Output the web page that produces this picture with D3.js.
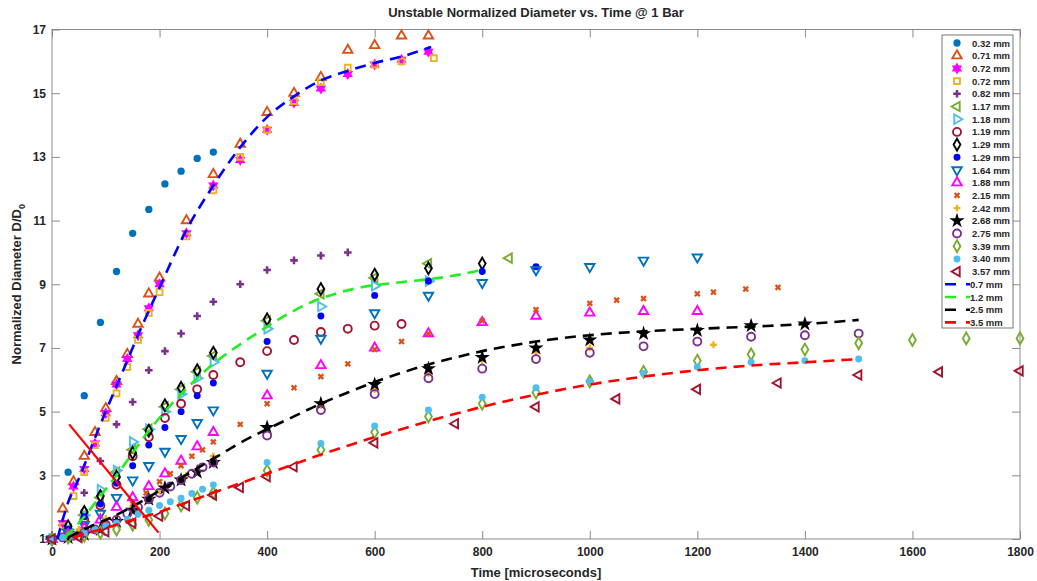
<!DOCTYPE html>
<html>
<head>
<meta charset="utf-8">
<script src="https://cdn.jsdelivr.net/npm/d3@7"></script>
<style>
  body { margin: 0; background: #fff; }
  text { font-family: "Liberation Sans", Arial, sans-serif; }
</style>
</head>
<body>
<svg id="chart" width="1037" height="581"></svg>
<script>
"use strict";

/* measured points: time [microseconds] and normalized diameter D/D0 */
const t032 = [0,30,60,90,120,150,180,210,240,270,300];
const v032 = [1,3.1,5.5,7.8,9.4,10.6,11.35,12.15,12.55,12.95,13.15];
const t071 = [0,20,40,60,80,100,120,140,160,180,200,250,300,350,400,450,500,550,600,650,700];
const v071 = [1,1.95,2.8,3.6,4.35,5.1,5.95,6.8,7.75,8.7,9.2,11.0,12.45,13.4,14.4,15.0,15.5,16.35,16.5,16.8,16.8];
const t072 = [0,20,40,60,80,100,120,140,160,180,200,250,300,350,400,450,500,550,600,650,700];
const v072 = [1,1.5,2.65,3.2,4.0,4.95,5.85,6.65,7.4,8.25,9.0,10.6,12.1,12.9,13.85,14.7,15.15,15.6,15.9,16.05,16.3];
const t072b = [0,20,40,60,80,100,120,140,160,180,200,250,300,350,400,450,500,550,600,650,710];
const v072b = [1,1.4,2.35,3.1,3.95,4.8,5.57,6.4,7.25,8.1,8.75,10.5,11.95,13.0,13.85,14.75,15.35,15.8,15.9,16.0,16.1];
const t082 = [0,60,90,120,150,180,210,240,270,300,350,400,450,500,550];
const v082 = [1,2.45,3.45,4.6,5.3,6.3,6.9,7.45,8.0,8.45,9.0,9.45,9.75,9.9,10.0];
const t117 = [0,30,60,90,120,150,180,210,240,270,300,400,500,600,700,850];
const v117 = [1,1.3,1.75,2.3,3.1,3.8,4.45,5.15,5.7,6.25,6.75,7.85,8.7,9.2,9.65,9.82];
const t118 = [0,30,60,90,120,150,180,210,240,270,300,400,500,600,700];
const v118 = [1,1.3,1.75,2.55,3.15,4.05,4.45,5.0,5.55,6.05,6.55,7.6,8.3,8.95,9.1];
const t119 = [0,30,60,90,120,150,180,210,240,270,300,350,400,450,500,550,600,650];
const v119 = [1,1.25,1.6,2.05,2.7,3.6,4.2,4.8,5.25,5.7,6.15,6.55,6.9,7.25,7.5,7.6,7.7,7.75];
const t129 = [0,30,60,90,120,150,180,210,240,270,300,400,500,600,700,800];
const v129 = [1,1.4,1.85,2.35,2.95,3.7,4.4,5.2,5.75,6.3,6.85,7.9,8.85,9.3,9.5,9.65];
const t129b = [0,30,60,90,120,150,180,210,240,270,300,400,500,600,700,800,900];
const v129b = [1,1.3,1.7,2.1,2.75,3.3,3.95,4.5,5.0,5.5,5.9,7.2,8.0,8.65,9.1,9.4,9.55];
const t164 = [0,30,60,90,120,150,180,210,240,270,300,400,500,600,700,800,900,1000,1100,1200];
const v164 = [1,1.2,1.45,1.8,2.3,2.85,3.3,3.75,4.15,4.65,5.05,6.2,7.3,8.1,8.65,9.05,9.45,9.55,9.75,9.85];
const t188 = [0,30,60,90,120,150,180,210,240,270,300,400,500,600,700,800,900,1000,1100,1200];
const v188 = [1,1.15,1.35,1.6,2.0,2.3,2.65,3.05,3.45,3.9,4.35,5.5,6.45,7.0,7.45,7.8,8.0,8.1,8.15,8.15];
const t215 = [0,50,100,150,175,200,220,240,260,280,300,350,400,450,500,550,600,650,700,800,900,1000,1050,1100,1200,1230,1290,1350];
const v215 = [1,1.2,1.5,2.1,2.45,2.8,3.05,3.3,3.6,3.8,4.05,4.6,5.25,5.75,6.1,6.5,6.95,7.2,7.45,7.85,8.2,8.4,8.5,8.55,8.7,8.75,8.85,8.9];
const t242 = [0,50,100,150,200,250,300,400,500,600,700,800,900,1000,1230];
const v242 = [1,1.3,1.65,2.0,2.5,3.0,3.6,4.5,5.2,5.7,6.2,6.6,6.85,7.0,7.1];
const t268 = [0,30,60,90,120,150,180,210,240,270,300,400,500,600,700,800,900,1000,1100,1200,1300,1400];
const v268 = [1,1.05,1.15,1.3,1.55,1.9,2.25,2.6,2.85,3.1,3.4,4.5,5.25,5.85,6.35,6.7,7.0,7.25,7.45,7.55,7.7,7.75];
const t275 = [0,20,40,60,80,100,120,140,160,180,200,220,240,260,280,300,400,500,600,700,800,900,1000,1100,1200,1300,1400,1500];
const v275 = [1,1.05,1.1,1.2,1.3,1.45,1.6,1.8,2.0,2.25,2.45,2.65,2.85,3.05,3.25,3.4,4.25,5.05,5.55,6.05,6.35,6.65,6.85,7.05,7.2,7.35,7.4,7.45];
const t339 = [0,30,60,90,120,150,180,210,240,270,300,400,500,600,700,800,900,1000,1100,1200,1300,1400,1500,1600,1700,1800];
const v339 = [1,1.05,1.1,1.2,1.3,1.45,1.6,1.8,2.05,2.3,2.45,3.15,3.8,4.35,4.85,5.25,5.6,5.95,6.25,6.6,6.8,6.95,7.15,7.25,7.3,7.3];
const t340 = [0,20,40,60,80,100,120,140,160,180,200,220,240,260,280,300,400,500,600,700,800,900,1000,1100,1200,1300,1400,1500];
const v340 = [1,1.05,1.1,1.2,1.3,1.4,1.5,1.62,1.78,1.9,2.05,2.17,2.28,2.43,2.56,2.7,3.4,4.0,4.55,5.05,5.45,5.75,5.95,6.2,6.4,6.55,6.6,6.65];
const t357 = [0,50,100,150,200,250,300,350,400,450,600,750,900,1050,1200,1350,1500,1650,1800];
const v357 = [1,1.05,1.23,1.5,1.72,2.05,2.38,2.62,2.96,3.27,4.02,4.62,5.15,5.4,5.7,5.9,6.15,6.25,6.28];

/* fitted curves */
const tFit07 = [10,30,50,90,130,165,200,250,300,350,400,450,500,550,600,650,705];
const vFit07 = [1.0,2.15,2.9,4.6,6.2,7.6,8.9,10.7,12.1,13.3,14.25,14.9,15.4,15.7,15.95,16.15,16.45];
const tFit12 = [25,60,90,120,150,180,210,240,270,300,340,380,430,480,530,580,630,680,740,800];
const vFit12 = [1.05,1.7,2.35,3.0,3.7,4.4,5.0,5.55,6.05,6.5,7.0,7.45,7.98,8.42,8.72,8.92,9.03,9.12,9.25,9.45];
const tFit25 = [30,70,110,150,190,230,270,310,350,400,450,500,550,600,650,700,750,800,850,900,1000,1100,1200,1300,1400,1500];
const vFit25 = [1.05,1.38,1.68,2.02,2.42,2.82,3.22,3.62,4.02,4.45,4.85,5.25,5.6,5.93,6.22,6.48,6.7,6.9,7.06,7.2,7.4,7.52,7.6,7.67,7.75,7.88];
const tFit35 = [40,80,120,160,200,250,300,350,400,450,500,550,600,650,700,750,800,850,900,1000,1100,1200,1300,1400,1500];
const vFit35 = [1.05,1.25,1.45,1.65,1.85,2.15,2.45,2.75,3.05,3.35,3.65,3.93,4.2,4.45,4.7,4.93,5.15,5.35,5.53,5.85,6.1,6.3,6.45,6.55,6.65];

/* red guide line */
const guideT = [32,198];
const guideV = [4.6,1.2];

const xTicks = [0,200,400,600,800,1000,1200,1400,1600,1800];
const yTicks = [1,3,5,7,9,11,13,15,17];

/* six pointed star for the hexagram marker */
const symbolHexagram = {
  draw(ctx, size) {
    let r = Math.sqrt(size) * 0.75;
    for (let i = 0; i < 12; i++) {
      let a = i * Math.PI / 6 - Math.PI / 2;
      let rr = i % 2 ? r / Math.sqrt(3) : r;
      if (i === 0) ctx.moveTo(rr * Math.cos(a), rr * Math.sin(a));
      else ctx.lineTo(rr * Math.cos(a), rr * Math.sin(a));
    }
    ctx.closePath();
  }
};

const shapes = {
  circle:   {type: d3.symbolCircle, rot: 0},
  triUp:    {type: d3.symbolTriangle, rot: 0},
  triDown:  {type: d3.symbolTriangle, rot: 180},
  triLeft:  {type: d3.symbolTriangle, rot: -90},
  triRight: {type: d3.symbolTriangle, rot: 90},
  square:   {type: d3.symbolSquare, rot: 0},
  diamond:  {type: d3.symbolDiamond, rot: 0},
  plus:     {type: d3.symbolCross, rot: 0},
  cross:    {type: d3.symbolCross, rot: 45},
  star:     {type: d3.symbolStar, rot: 0},
  hexagram: {type: symbolHexagram, rot: 0}
};

let series = [
  {label: '0.32 mm', t: t032, v: v032, shape: 'circle', color: '#0072BD', fill: true, size: 42},
  {label: '0.71 mm', t: t071, v: v071, shape: 'triUp', color: '#D95319', fill: false, size: 38},
  {label: '0.72 mm', t: t072, v: v072, shape: 'hexagram', color: '#FF00FF', fill: true, size: 64},
  {label: '0.72 mm', t: t072b, v: v072b, shape: 'square', color: '#EDB120', fill: false, size: 34},
  {label: '0.82 mm', t: t082, v: v082, shape: 'plus', color: '#7E2F8E', fill: true, size: 32},
  {label: '1.17 mm', t: t117, v: v117, shape: 'triLeft', color: '#77AC30', fill: false, size: 38},
  {label: '1.18 mm', t: t118, v: v118, shape: 'triRight', color: '#4DBEEE', fill: false, size: 38},
  {label: '1.19 mm', t: t119, v: v119, shape: 'circle', color: '#A2142F', fill: false, size: 50},
  {label: '1.29 mm', t: t129, v: v129, shape: 'diamond', color: '#000000', fill: false, size: 40},
  {label: '1.29 mm', t: t129b, v: v129b, shape: 'circle', color: '#0000FF', fill: true, size: 38},
  {label: '1.64 mm', t: t164, v: v164, shape: 'triDown', color: '#0072BD', fill: false, size: 38},
  {label: '1.88 mm', t: t188, v: v188, shape: 'triUp', color: '#FF00FF', fill: false, size: 38},
  {label: '2.15 mm', t: t215, v: v215, shape: 'cross', color: '#D95319', fill: true, size: 26},
  {label: '2.42 mm', t: t242, v: v242, shape: 'plus', color: '#EDB120', fill: true, size: 26},
  {label: '2.68 mm', t: t268, v: v268, shape: 'star', color: '#000000', fill: true, size: 72},
  {label: '2.75 mm', t: t275, v: v275, shape: 'circle', color: '#7E2F8E', fill: false, size: 50},
  {label: '3.39 mm', t: t339, v: v339, shape: 'diamond', color: '#77AC30', fill: false, size: 40},
  {label: '3.40 mm', t: t340, v: v340, shape: 'circle', color: '#4DBEEE', fill: true, size: 38},
  {label: '3.57 mm', t: t357, v: v357, shape: 'triLeft', color: '#A2142F', fill: false, size: 38}
];

let fits = [
  {label: '0.7 mm', t: tFit07, v: vFit07, color: '#0000FF'},
  {label: '1.2 mm', t: tFit12, v: vFit12, color: '#22EE22'},
  {label: '2.5 mm', t: tFit25, v: vFit25, color: '#000000'},
  {label: '3.5 mm', t: tFit35, v: vFit35, color: '#FF0000'}
];

function drawChart() {
  let svg = d3.select('svg#chart');
  let plot = {left: 52, right: 1020, top: 29.5, bottom: 539};
  let frameColor = '#8a8a8a';
  let textColor = '#262626';

  let x = d3.scaleLinear().domain([0, 1800]).range([plot.left, plot.right]);
  let y = d3.scaleLinear().domain([1, 17]).range([plot.bottom, plot.top]);

  /* axes with inward ticks on all four sides */
  let axisStyle = g => {
    g.select('.domain').remove();
    g.selectAll('.tick line').attr('stroke', frameColor);
    g.selectAll('.tick text')
     .attr('fill', textColor)
     .style('font-size', '12px')
     .style('font-weight', 'bold');
  };
  svg.append('g')
     .attr('transform', `translate(0,${plot.bottom})`)
     .call(d3.axisBottom(x).tickValues(xTicks).tickSize(-8).tickPadding(8).tickFormat(d3.format('d')))
     .call(axisStyle);
  svg.append('g')
     .attr('transform', `translate(0,${plot.top})`)
     .call(d3.axisTop(x).tickValues(xTicks).tickSize(-8).tickFormat(''))
     .call(axisStyle);
  svg.append('g')
     .attr('transform', `translate(${plot.left},0)`)
     .call(d3.axisLeft(y).tickValues(yTicks).tickSize(-8).tickPadding(6).tickFormat(d3.format('d')))
     .call(axisStyle);
  svg.append('g')
     .attr('transform', `translate(${plot.right},0)`)
     .call(d3.axisRight(y).tickValues(yTicks).tickSize(-8).tickFormat(''))
     .call(axisStyle);

  svg.append('rect')
     .attr('x', plot.left).attr('y', plot.top)
     .attr('width', plot.right - plot.left)
     .attr('height', plot.bottom - plot.top)
     .attr('fill', 'none')
     .attr('stroke', frameColor)
     .attr('stroke-width', 1);

  /* title and axis labels */
  svg.append('text')
     .attr('x', (plot.left + plot.right) / 2).attr('y', 17)
     .attr('text-anchor', 'middle')
     .attr('fill', textColor)
     .style('font-size', '13px').style('font-weight', 'bold')
     .text('Unstable Normalized Diameter vs. Time @ 1 Bar');
  svg.append('text')
     .attr('x', (plot.left + plot.right) / 2).attr('y', 577)
     .attr('text-anchor', 'middle')
     .attr('fill', textColor)
     .style('font-size', '13px').style('font-weight', 'bold')
     .text('Time [microseconds]');
  let yLabel = svg.append('text')
     .attr('transform', `translate(21,${(plot.top + plot.bottom) / 2}) rotate(-90)`)
     .attr('text-anchor', 'middle')
     .attr('fill', textColor)
     .style('font-size', '13px').style('font-weight', 'bold');
  yLabel.append('tspan').text('Normalized Diameter D/D');
  yLabel.append('tspan').attr('dy', 4).style('font-size', '9px').text('0');

  let markerPath = s => d3.symbol().type(shapes[s.shape].type).size(s.size)();

  /* scatter series */
  for (let s of series) {
    let pts = s.t.map((t, i) => [t, s.v[i]]);
    svg.append('g')
       .selectAll('path')
       .data(pts)
       .join('path')
       .attr('d', markerPath(s))
       .attr('transform', d => `translate(${x(d[0])},${y(d[1])}) rotate(${shapes[s.shape].rot})`)
       .attr('fill', s.fill ? s.color : 'none')
       .attr('stroke', s.fill ? 'none' : s.color)
       .attr('stroke-width', 1.9);
  }

  /* fitted dashed curves */
  let line = d3.line().x(d => x(d[0])).y(d => y(d[1])).curve(d3.curveMonotoneX);
  for (let f of fits) {
    svg.append('path')
       .datum(f.t.map((t, i) => [t, f.v[i]]))
       .attr('d', line)
       .attr('fill', 'none')
       .attr('stroke', f.color)
       .attr('stroke-width', 2.6)
       .attr('stroke-dasharray', '11,7');
  }

  /* red guide */
  svg.append('path')
     .datum(guideT.map((t, i) => [t, guideV[i]]))
     .attr('d', d3.line().x(d => x(d[0])).y(d => y(d[1])))
     .attr('stroke', '#FF0000')
     .attr('stroke-width', 2.2)
     .attr('fill', 'none');

  /* legend */
  let legend = {x: 942, y: 35, width: 71, height: 293, row: 12.7, first: 43};
  let lg = svg.append('g');
  lg.append('rect')
    .attr('x', legend.x).attr('y', legend.y)
    .attr('width', legend.width).attr('height', legend.height)
    .attr('fill', '#fff')
    .attr('stroke', '#555')
    .attr('stroke-width', 0.8);

  series.forEach((s, i) => {
    let cy = legend.first + i * legend.row;
    lg.append('path')
      .attr('d', markerPath(s))
      .attr('transform', `translate(${legend.x + 15},${cy}) rotate(${shapes[s.shape].rot})`)
      .attr('fill', s.fill ? s.color : 'none')
      .attr('stroke', s.fill ? 'none' : s.color)
      .attr('stroke-width', 1.9);
    lg.append('text')
      .attr('x', legend.x + 30).attr('y', cy + 3.5)
      .attr('fill', textColor)
      .style('font-size', '9.5px').style('font-weight', 'bold')
      .text(s.label);
  });
  fits.forEach((f, i) => {
    let cy = legend.first + (series.length + i) * legend.row;
    lg.append('line')
      .attr('x1', legend.x + 3).attr('x2', legend.x + 28)
      .attr('y1', cy).attr('y2', cy)
      .attr('stroke', f.color)
      .attr('stroke-width', 2.6)
      .attr('stroke-dasharray', '11,10');
    lg.append('text')
      .attr('x', legend.x + 28).attr('y', cy + 3.5)
      .attr('fill', textColor)
      .style('font-size', '9.5px').style('font-weight', 'bold')
      .text(f.label);
  });
}

drawChart();
</script>
</body>
</html>
